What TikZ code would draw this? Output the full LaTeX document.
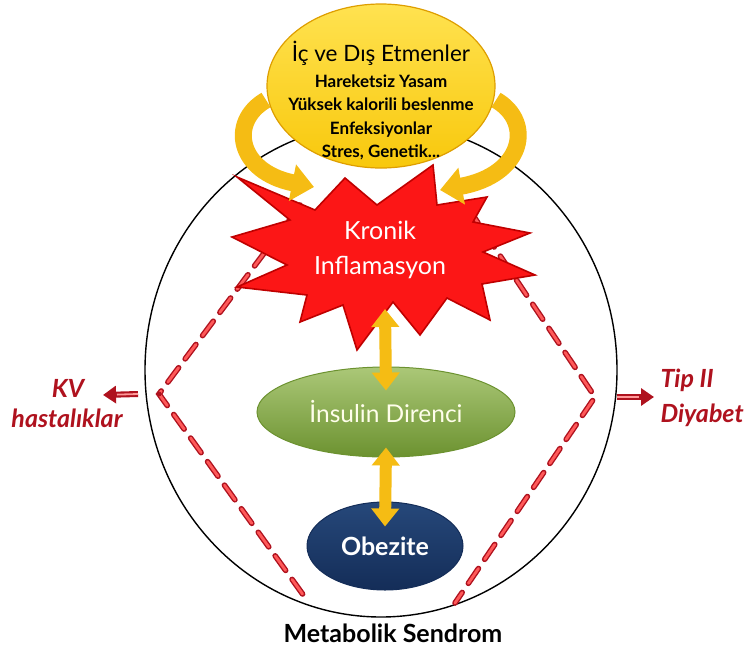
\documentclass[tikz,border=0pt]{standalone}
\usepackage{fontspec}
\setmainfont{Lato}
\usetikzlibrary{arrows.meta,shapes.geometric,calc}
\definecolor{gold}{RGB}{248,200,12}
\definecolor{goldl}{RGB}{255,226,80}
\definecolor{goldd}{RGB}{222,158,0}
\definecolor{arr}{RGB}{245,188,20}
\definecolor{kred}{RGB}{252,22,22}
\definecolor{dred}{RGB}{175,18,30}
\definecolor{grn}{RGB}{150,186,86}
\definecolor{grnd}{RGB}{108,146,48}
\definecolor{navy}{RGB}{38,72,122}
\definecolor{navyd}{RGB}{20,45,88}
\begin{document}
\begin{tikzpicture}[x=1pt,y=-1pt,
  ovalbox/.style={ellipse, inner sep=0pt},
  curvearrow/.style={draw=arr, line width=17pt, -{Triangle[width=36pt,length=22pt]}},
  dblarrow/.style={draw=arr, line width=12pt, {Triangle[width=27pt,length=18pt]}-{Triangle[width=27pt,length=18pt]}},
  reddash/.style={draw=dred, double=red!65, double distance=2.8pt, line width=1.4pt, dash pattern=on 18pt off 11pt, line cap=round},
  sidearrow/.style={draw=dred, line width=6pt, -{Triangle[width=17pt,length=13pt]}},
  sidetext/.style={text=dred, font=\fontsize{25}{30}\selectfont\bfseries\itshape},
  whitetext/.style={text=white, align=center}
]
\useasboundingbox (0,0) rectangle (747,654);
% big circle
\node[ovalbox, draw=black, line width=1.4pt, minimum width=472pt, minimum height=494pt] (ms) at (381,370) {};
\node[font=\fontsize{25}{28}\selectfont\bfseries] (mstext) at (393,633) {Metabolik Sendrom};
% dashed lines
\coordinate (lA) at (300,205);
\coordinate (lV) at (159,394);
\coordinate (lB) at (304,596);
\coordinate (rA) at (468,208);
\coordinate (rV) at (595,397);
\coordinate (rB) at (455,603);
\draw[reddash] (lA) -- (lV) -- (lB);
\draw[reddash] (rA) -- (rV) -- (rB);
\fill[dred] (lV) circle (2.5pt);
% side arrows
\coordinate (kvs) at (138,394);
\coordinate (kve) at (103,395);
\coordinate (tps) at (617,397);
\coordinate (tpe) at (654,397);
\draw[sidearrow] (kvs) -- (kve);
\draw[sidearrow] (tps) -- (tpe);
\draw[red!40, line width=1.8pt] (kvs) -- ($(kvs)!0.6!(kve)$);
\draw[red!40, line width=1.8pt] (tps) -- ($(tps)!0.6!(tpe)$);
\node[sidetext] (kv) at (68,388) {KV};
\node[sidetext] (hast) at (67,418) {hastalıklar};
\node[sidetext, anchor=west] (tip) at (657,380) {Tip II};
\node[sidetext, anchor=west] (diy) at (657,415) {Diyabet};
% star
\filldraw[fill=kred, draw=red!75!black, line width=1.6pt, line join=miter]
  (237,177) -- (315,210) -- (345,178) -- (377,205) -- (433,165) -- (437,205)
  -- (487,197) -- (473,222) -- (530,233) -- (483,252) -- (535,275) -- (482,284)
  -- (490,320) -- (447,298) -- (420,335) -- (393,302) -- (357,350) -- (343,305)
  -- (300,322) -- (307,295) -- (237,287) -- (287,265) -- (232,237) -- (290,220) -- cycle;
\node[whitetext, font=\fontsize{25}{35}\selectfont] (kron) at (380,250) {Kronik\\Inflamasyon};
% curved arrows
\draw[curvearrow] (266,100) .. controls (228,122) and (238,172) .. (314,187);
\draw[curvearrow] (496,100) .. controls (534,122) and (524,175) .. (440,190);
% top ellipse
\node[ovalbox, draw=goldd, line width=1.2pt, top color=goldl, bottom color=gold, minimum width=228pt, minimum height=164pt] (yel) at (381,86) {};
\node[align=center, font=\fontsize{17}{23.5}\selectfont\bfseries] (yeltext) at (381,101)
  {{\fontsize{22.5}{24}\selectfont\mdseries İç ve Dış Etmenler}\\[2pt]
   Hareketsiz Yasam\\ Yüksek kalorili beslenme\\ Enfeksiyonlar\\ Stres, Genetik...};
% green ellipse
\node[ovalbox, draw=grnd, line width=1pt, top color=grn!80!white, bottom color=grnd, minimum width=258pt, minimum height=90pt,
  text=white!92!yellow, font=\fontsize{24.5}{28}\selectfont] (ins) at (386,412) {İnsulin Direnci};
% blue ellipse
\node[ovalbox, draw=navyd, line width=1pt, top color=navy, bottom color=navyd, minimum width=156pt, minimum height=88pt,
  text=white, font=\fontsize{25}{28}\selectfont\bfseries] (obe) at (385,546) {Obezite};
% vertical arrows
\coordinate (kbot) at (385,309);
\draw[dblarrow] (kbot) -- ([yshift=-24pt]ins.north);
\draw[dblarrow] ([yshift=10pt]ins.south) -- ([yshift=-25pt]obe.north);
\end{tikzpicture}
\end{document}
